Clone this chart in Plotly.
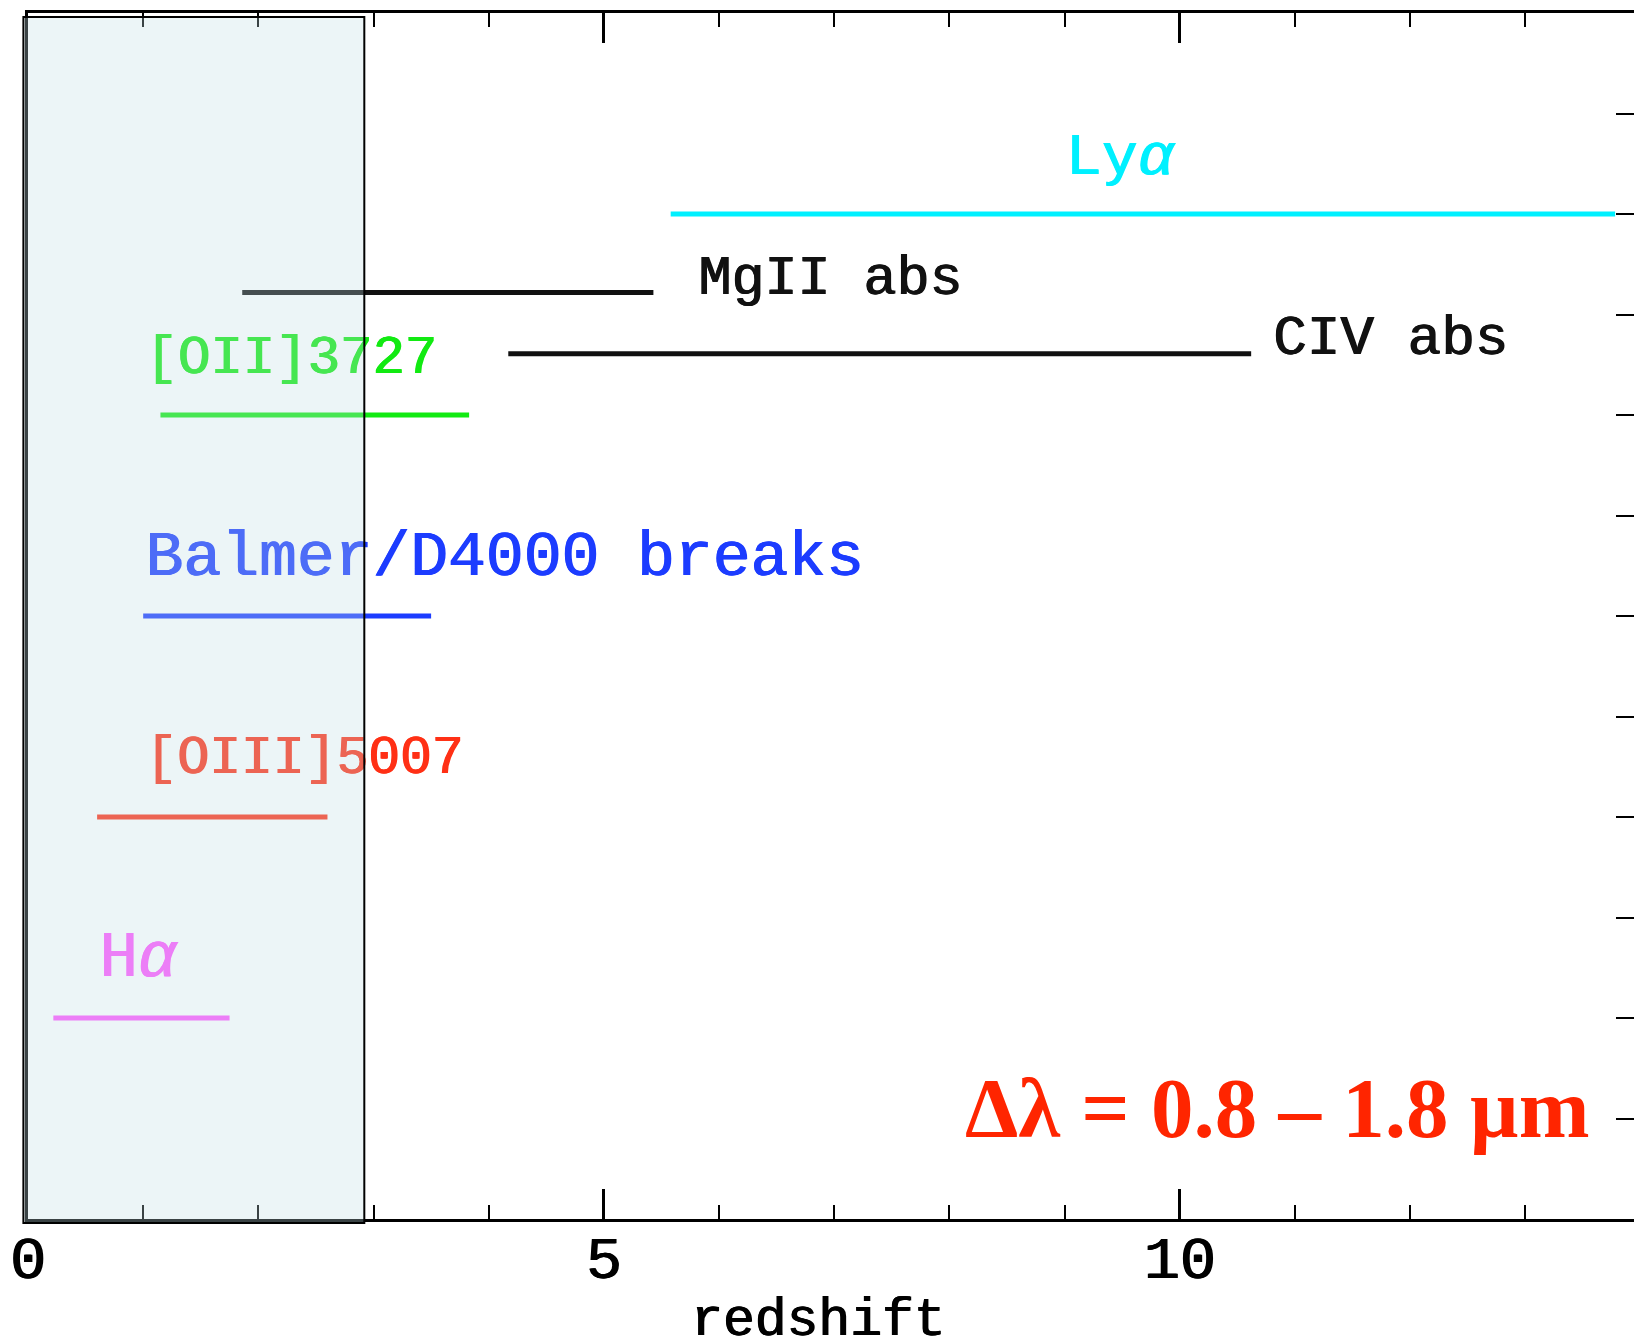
import plotly.graph_objects as go

# ---------------- data ----------------
LINES = ["Lyα", "MgII abs", "CIV abs", "[OII]3727", "Balmer/D4000 breaks", "[OIII]5007", "Hα"]
Z_MIN = [5.58, 1.86, 4.17, 1.15, 1.00, 0.60, 0.22]
Z_MAX = [13.78, 5.43, 10.62, 3.83, 3.50, 2.60, 1.75]
ROW_Y = [10.0, 9.22, 8.61, 8.0, 6.0, 4.0, 2.0]
LABEL_TEXT = ["Ly<i>α</i>", "MgII abs", "CIV abs", "[OII]3727",
              "Balmer/D4000 breaks", "[OIII]5007", "H<i>α</i>"]
LABEL_X = [9.01, 5.82, 10.81, 1.02, 1.02, 1.02, 0.62]
LABEL_Y = [10.55, 9.34, 8.75, 8.55, 6.56, 4.57, 2.58]
X_TICKS = [0, 5, 10]
X_TICK_LABELS = ["0", "5", "10"]
BAND_Z = [-0.04, 2.92]          # shaded redshift band
BAND_ROWS = [-0.04, 11.96]
NOTE = "Δλ = 0.8 – 1.8 µm"

# ---------------- style ----------------
COLORS = ["#00f0ff", "#111111", "#111111", "#12ea12", "#1c3cff", "#ff3015", "#ff55ff"]
LABEL_SIZE = [60, 55, 56, 54, 63, 53, 64]
MONO = "Liberation Mono"
X_RANGE = [0, 13.97]
Y_RANGE = [0, 12]


def heavier(color):
    # slight faux-medium weight: thin same-colour shadow
    return f"0.9px 0px 0px {color}, -0.4px 0px 0px {color}"


fig = go.Figure()
for name, z0, z1, y, c in zip(LINES, Z_MIN, Z_MAX, ROW_Y, COLORS):
    fig.add_trace(go.Scatter(x=[z0, z1], y=[y, y], mode="lines",
                             line=dict(color=c, width=5), name=name,
                             hoverinfo="skip"))
for t, x, y, c, s in zip(LABEL_TEXT, LABEL_X, LABEL_Y, COLORS, LABEL_SIZE):
    fig.add_trace(go.Scatter(x=[x], y=[y], mode="text", text=[t],
                             textposition="middle right", cliponaxis=False,
                             textfont=dict(family=MONO, size=s, color=c,
                                           shadow=heavier(c)),
                             hoverinfo="skip"))


def to_paper(v, r):
    return (v - r[0]) / (r[1] - r[0])


fig.add_shape(type="rect", xref="paper", yref="paper", layer="above",
              x0=to_paper(BAND_Z[0], X_RANGE), x1=to_paper(BAND_Z[1], X_RANGE),
              y0=to_paper(BAND_ROWS[0], Y_RANGE), y1=to_paper(BAND_ROWS[1], Y_RANGE),
              fillcolor="rgba(192,222,228,0.30)",
              line=dict(color="black", width=2))

fig.add_annotation(x=13.58, y=1.1, xref="x", yref="y", text="<b>" + NOTE + "</b>",
                   showarrow=False, xanchor="right", yanchor="middle",
                   font=dict(family="Liberation Serif", size=85, color="#ff2500"))
fig.add_annotation(x=6.86, y=0, xref="x", yref="paper", yshift=-102,
                   text="redshift", showarrow=False, xanchor="center", yanchor="middle",
                   font=dict(family=MONO, size=53, color="black",
                             shadow=heavier("black")))

fig.update_layout(
    width=1634, height=1336,
    margin=dict(l=19, r=5, t=2, b=125),
    paper_bgcolor="white", plot_bgcolor="white",
    showlegend=False,
    xaxis=dict(range=X_RANGE, showgrid=False, zeroline=False,
               showline=True, linecolor="black", linewidth=3, mirror="ticks",
               ticks="inside", ticklen=30, tickwidth=2.5, tickcolor="black",
               tickvals=X_TICKS, ticktext=X_TICK_LABELS,
               ticklabelstandoff=-16,
               tickfont=dict(family=MONO, size=60, color="black",
                             shadow=heavier("black")),
               minor=dict(dtick=1, ticks="inside", ticklen=14, tickwidth=2,
                          tickcolor="black", showgrid=False)),
    yaxis=dict(range=Y_RANGE, showgrid=False, zeroline=False, side="right",
               showline=True, linecolor="black", linewidth=3, mirror=True,
               ticks="inside", ticklen=21, tickwidth=2, tickcolor="black",
               dtick=1, showticklabels=False),
)

fig.write_html("out.html")
